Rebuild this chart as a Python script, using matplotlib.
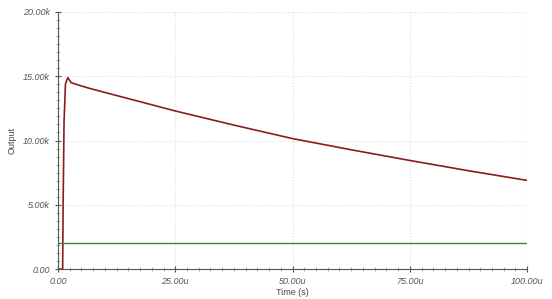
import numpy as np
import matplotlib.pyplot as plt
from matplotlib.ticker import FuncFormatter, MultipleLocator

# -------- DATA --------
# time in microseconds, output values
time_us = [0.0, 1.0, 1.1, 1.3, 1.6, 2.1, 2.8, 4.5, 6.8, 12.5, 25.0, 37.5, 50.0, 62.5, 75.0, 87.5, 100.0]
output = [0, 0, 5000, 11500, 14400, 14900, 14500, 14300, 14050, 13500, 12300, 11200, 10150, 9280, 8450, 7650, 6900]
ref_time_us = [0.0, 100.0]
ref_output = [2000, 2000]
# ----------------------

plt.rcParams['font.family'] = ['Liberation Sans', 'DejaVu Sans']

fig = plt.figure(figsize=(5.52, 2.99), dpi=100)
ax = fig.add_axes([0.105, 0.100, 0.850, 0.860])

ax.plot(time_us, output, color='#8b1c1c', lw=1.2)
ax.plot(ref_time_us, ref_output, color='#2f8f2f', lw=1.0)

ax.set_xlim(0, 100)
ax.set_ylim(0, 20000)

ax.xaxis.set_major_locator(MultipleLocator(25))
ax.xaxis.set_minor_locator(MultipleLocator(2.5))
ax.yaxis.set_major_locator(MultipleLocator(5000))
ax.yaxis.set_minor_locator(MultipleLocator(625))

ax.xaxis.set_major_formatter(FuncFormatter(lambda v, p: '0.00' if v == 0 else f'{v:.2f}u'))
ax.yaxis.set_major_formatter(FuncFormatter(lambda v, p: '0.00' if v == 0 else f'{v/1000:.2f}k'))

for lbl in ax.get_xticklabels() + ax.get_yticklabels():
    lbl.set_fontstyle('italic')

ax.tick_params(axis='both', which='major', labelsize=6.5, labelcolor='#555555',
               color='#555555', length=5, width=0.8)
ax.tick_params(axis='both', which='minor', color='#888888', length=2.5, width=0.5)
ax.tick_params(axis='both', which='both', direction='inout')

ax.grid(True, which='major', color='#dddddd', linestyle=':', linewidth=0.8)
ax.axvline(100, color='#d5d5d5', lw=0.8)

for s in ['top', 'right']:
    ax.spines[s].set_visible(False)
for s in ['left', 'bottom']:
    ax.spines[s].set_color('#555555')
    ax.spines[s].set_linewidth(0.8)

ax.set_xlabel('Time (s)', fontsize=6.5, color='#444444', labelpad=1)
ax.set_ylabel('Output', fontsize=6.5, color='#444444', labelpad=4)

fig.savefig('out.png', dpi=100)
